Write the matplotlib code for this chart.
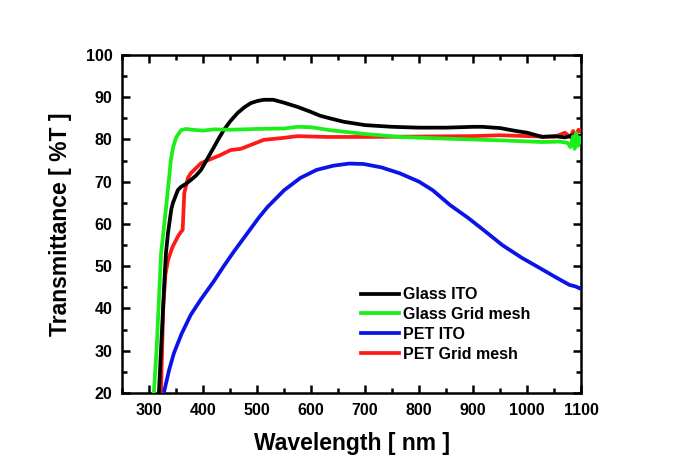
import matplotlib
matplotlib.use("Agg")
import matplotlib.pyplot as plt
from matplotlib.ticker import MultipleLocator

plt.rcParams['font.family'] = ['Liberation Sans', 'DejaVu Sans']
plt.rcParams['font.weight'] = 'bold'

# Glass ITO (black)
glass_ito_x = [318, 323, 328, 331, 335, 341, 344, 353, 359, 368, 377, 387, 396, 408, 420, 430, 438,
               450, 464, 476, 488, 500, 512, 530, 550, 575, 600, 617, 635, 660, 700, 750, 800,
               850, 900, 917, 950, 980, 1000, 1028, 1050, 1070, 1085, 1100]
glass_ito_y = [20, 33, 46, 53, 58, 63.5, 65, 68, 68.8, 69.5, 70.4, 71.5, 72.8, 75.5, 78.2, 80.5, 82.2,
               84.3, 86.3, 87.6, 88.6, 89.1, 89.4, 89.4, 88.7, 87.7, 86.5, 85.6, 85, 84.2, 83.4, 83, 82.8,
               82.8, 83, 83, 82.7, 82, 81.6, 80.6, 80.8, 80.5, 81, 80.8]

# Glass Grid mesh (green)
glass_grid_x = [305, 309, 314, 318, 322, 328, 333, 337, 340, 344, 350, 359, 368, 380, 400, 420,
                450, 500, 550, 575, 600, 635, 700, 765, 850, 950, 1028, 1060, 1075, 1080, 1085,
                1088, 1091, 1094, 1097, 1100]
glass_grid_y = [15, 20.7, 31, 42, 53, 60, 66, 71, 75, 78, 80.5, 82.2, 82.5, 82.3, 82.1, 82.4,
                82.3, 82.5, 82.6, 83, 82.9, 82.2, 81.3, 80.6, 80.2, 79.8, 79.4, 79.5, 79.2, 78.2, 80.8,
                77.8, 81.5, 78.5, 80.5, 79.5]

# PET ITO (blue)
pet_ito_x = [328, 337, 346, 360, 377, 396, 420, 438, 457, 480, 503, 519, 550, 580, 610, 641, 670,
             697, 730, 764, 800, 825, 857, 890, 917, 954, 990, 1023, 1050, 1078, 1090, 1100]
pet_ito_y = [20.5, 25.5, 29.5, 34, 38.5, 42.2, 46.5, 50, 53.5, 57.5, 61.5, 64, 68, 70.9, 72.8,
             73.8, 74.3, 74.2, 73.4, 72, 70, 68, 64.5, 61.5, 58.8, 55, 52, 49.6, 47.6,
             45.6, 45.2, 44.6]

# PET Grid mesh (red)
pet_grid_x = [320, 322, 326, 330, 335, 343, 353, 358, 362, 365, 372, 377, 396, 409, 430, 451, 470,
              512, 550, 575, 600, 630, 700, 800, 900, 949, 1000, 1050, 1070, 1080, 1085, 1090,
              1095, 1100]
pet_grid_y = [15, 20.7, 40, 48, 51.5, 54.5, 57, 58, 58.6, 67.3, 71, 72, 74.4, 75.1, 76.2, 77.5, 77.8,
              79.9, 80.4, 80.8, 80.7, 80.6, 80.6, 80.7, 80.8, 81, 80.8, 80.6, 81.6, 80.5, 82,
              80.8, 82.3, 81.8]

fig = plt.figure(figsize=(6.75, 4.72), dpi=100)
ax = fig.add_axes([0.181, 0.1674, 0.680, 0.7161])

lw = 2.7
ax.plot(glass_ito_x, glass_ito_y, color='#000000', lw=lw, label='Glass ITO', zorder=4)
ax.plot(pet_grid_x, pet_grid_y, color='#ff1a1a', lw=lw, label='PET Grid mesh', zorder=3)
ax.plot(glass_grid_x, glass_grid_y, color='#1aef1a', lw=lw, label='Glass Grid mesh', zorder=5)
ax.plot(pet_ito_x, pet_ito_y, color='#0a14e6', lw=lw, label='PET ITO', zorder=3)

ax.set_xlim(250, 1100)
ax.set_ylim(20, 100)
ax.xaxis.set_major_locator(MultipleLocator(100))
ax.xaxis.set_minor_locator(MultipleLocator(50))
ax.yaxis.set_major_locator(MultipleLocator(10))
ax.yaxis.set_minor_locator(MultipleLocator(5))
ax.set_xticks([300, 400, 500, 600, 700, 800, 900, 1000, 1100])

ax.tick_params(which='both', direction='in', top=True, right=True, width=1.8, labelsize=11.5, pad=7)
ax.tick_params(which='major', length=6)
ax.tick_params(which='minor', length=3.5)
for s in ax.spines.values():
    s.set_linewidth(1.8)
for lab in ax.get_xticklabels() + ax.get_yticklabels():
    lab.set_fontweight('bold')

ax.set_xlabel('Wavelength [ nm ]', fontsize=16.5, fontweight='bold', labelpad=10)
ax.set_ylabel('Transmittance [ %T ]', fontsize=16.5, fontweight='bold', labelpad=10)

handles, labels = ax.get_legend_handles_labels()
order = [0, 2, 3, 1]
ax.legend([handles[i] for i in order], [labels[i] for i in order],
          loc='upper left', bbox_to_anchor=(0.5065, 0.332), frameon=False,
          prop={'weight': 'bold', 'size': 11.5}, handlelength=2.4, handletextpad=0.2,
          labelspacing=0.3, borderaxespad=0)

fig.savefig('out.png', dpi=100)
